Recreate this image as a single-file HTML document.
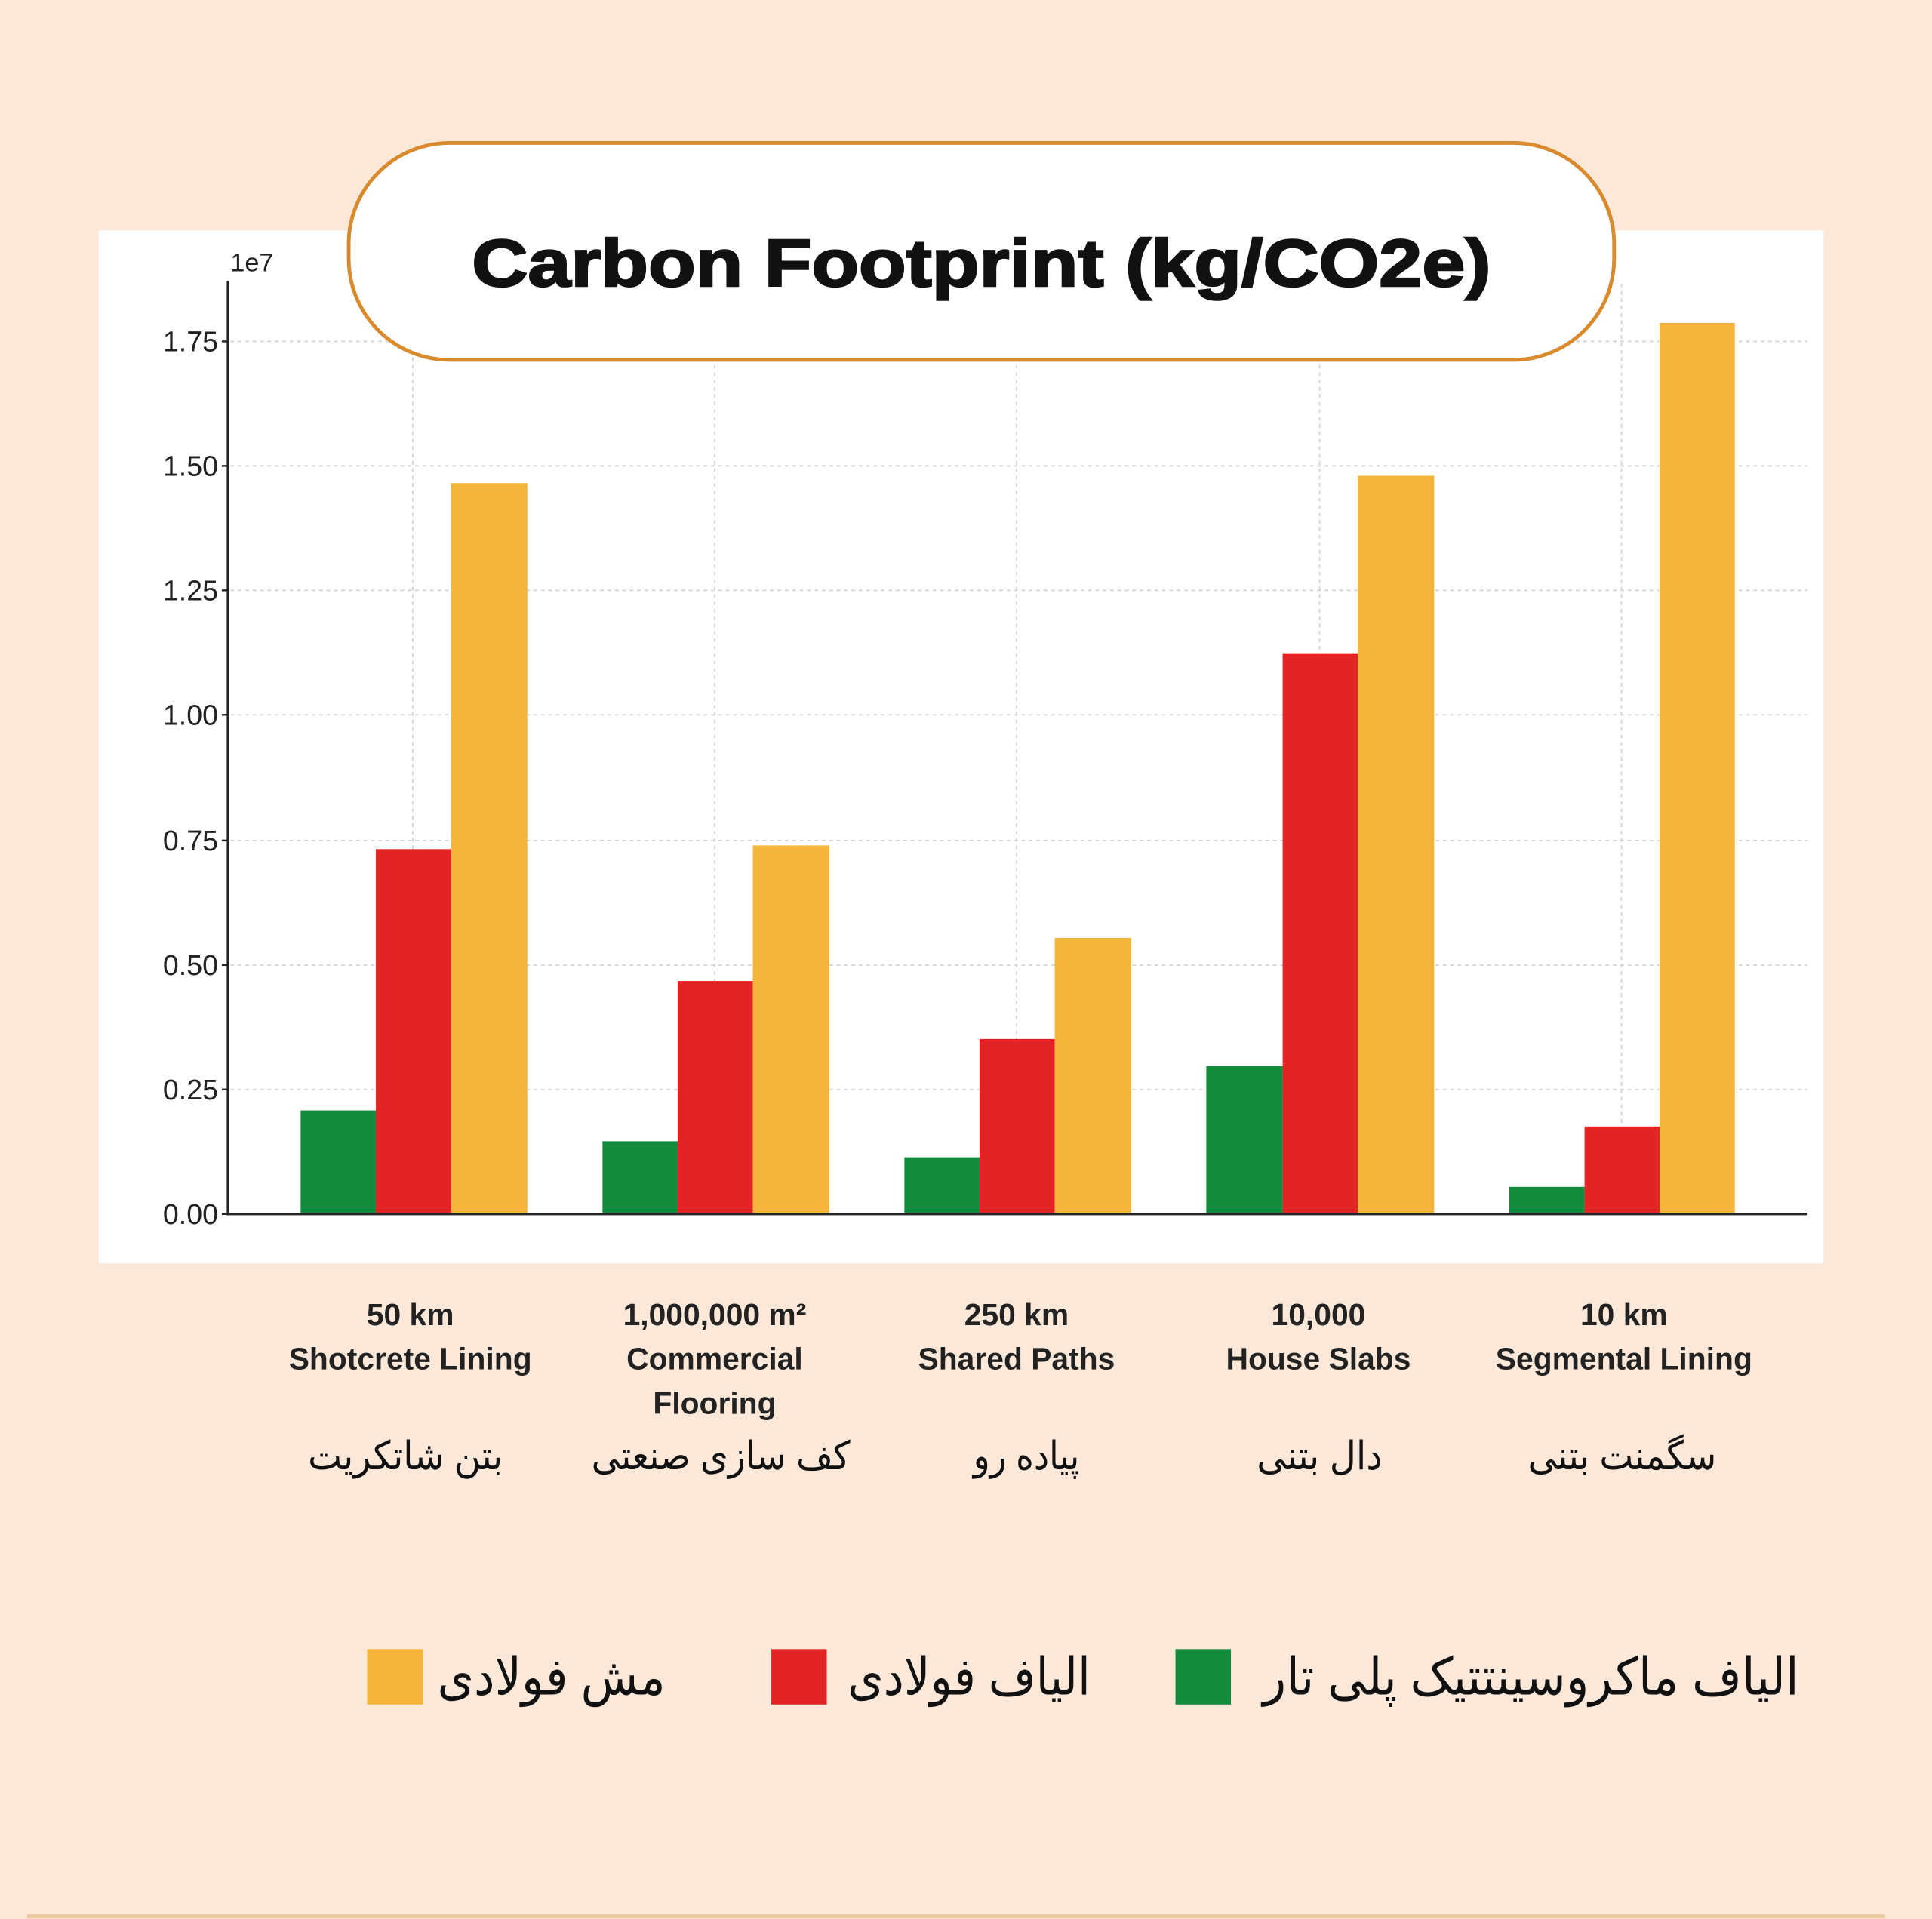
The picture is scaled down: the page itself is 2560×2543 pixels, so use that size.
<!DOCTYPE html>
<html><head><meta charset="utf-8"><style>
html,body{margin:0;padding:0;background:#fce8d9;}
svg{display:block}
.t{font-family:"Liberation Sans","DejaVu Sans",sans-serif;fill:#222}
.fa{font-family:"Liberation Sans","DejaVu Sans",sans-serif;fill:#111}
</style></head><body>
<svg width="2560" height="2543" viewBox="0 0 1568 1557" preserveAspectRatio="none" xmlns="http://www.w3.org/2000/svg">
<rect x="0" y="0" width="1568" height="1557" fill="#fce8d9"/>
<rect x="80" y="187" width="1400" height="838" fill="#ffffff"/>
<g stroke="#d6d6d6" stroke-width="1.2" stroke-dasharray="3,3">
<line x1="187" y1="277" x2="1467" y2="277"/><line x1="187" y1="378" x2="1467" y2="378"/>
<line x1="187" y1="479" x2="1467" y2="479"/><line x1="187" y1="580" x2="1467" y2="580"/>
<line x1="187" y1="682" x2="1467" y2="682"/><line x1="187" y1="783" x2="1467" y2="783"/>
<line x1="187" y1="884" x2="1467" y2="884"/>
<line x1="335" y1="230" x2="335" y2="985"/><line x1="580" y1="230" x2="580" y2="985"/>
<line x1="825" y1="230" x2="825" y2="985"/><line x1="1071" y1="230" x2="1071" y2="985"/>
<line x1="1316" y1="230" x2="1316" y2="985"/>
</g>
<g>
<rect x="244" y="901" width="61" height="84" fill="#138a3c"/><rect x="305" y="689" width="61" height="296" fill="#e32424"/><rect x="366" y="392" width="62" height="593" fill="#f5b43a"/>
<rect x="489" y="926" width="61" height="59" fill="#138a3c"/><rect x="550" y="796" width="61" height="189" fill="#e32424"/><rect x="611" y="686" width="62" height="299" fill="#f5b43a"/>
<rect x="734" y="939" width="61" height="46" fill="#138a3c"/><rect x="795" y="843" width="61" height="142" fill="#e32424"/><rect x="856" y="761" width="62" height="224" fill="#f5b43a"/>
<rect x="979" y="865" width="62" height="120" fill="#138a3c"/><rect x="1041" y="530" width="61" height="455" fill="#e32424"/><rect x="1102" y="386" width="62" height="599" fill="#f5b43a"/>
<rect x="1225" y="963" width="61" height="22" fill="#138a3c"/><rect x="1286" y="914" width="61" height="71" fill="#e32424"/><rect x="1347" y="262" width="61" height="723" fill="#f5b43a"/>
</g>
<line x1="185" y1="228" x2="185" y2="986" stroke="#222" stroke-width="2"/>
<line x1="184" y1="985" x2="1467" y2="985" stroke="#222" stroke-width="2"/>
<g stroke="#222" stroke-width="1.5">
<line x1="180" y1="277" x2="185" y2="277"/><line x1="180" y1="378" x2="185" y2="378"/><line x1="180" y1="479" x2="185" y2="479"/><line x1="180" y1="580" x2="185" y2="580"/><line x1="180" y1="682" x2="185" y2="682"/><line x1="180" y1="783" x2="185" y2="783"/><line x1="180" y1="884" x2="185" y2="884"/><line x1="180" y1="985" x2="185" y2="985"/>
</g>
<g class="t" font-size="23" text-anchor="end">
<text x="177" y="285">1.75</text><text x="177" y="386">1.50</text><text x="177" y="487">1.25</text><text x="177" y="588">1.00</text><text x="177" y="690">0.75</text><text x="177" y="791">0.50</text><text x="177" y="892">0.25</text><text x="177" y="993">0.00</text>
</g>
<text class="t" x="187" y="220" font-size="21">1e7</text>
<rect x="283" y="116" width="1027" height="176" rx="82" ry="82" fill="#fff" stroke="#d98a2c" stroke-width="3"/>
<text x="383" y="232" textLength="827" lengthAdjust="spacingAndGlyphs" font-family="'Liberation Sans',sans-serif" font-weight="bold" font-size="54" fill="#111" stroke="#111" stroke-width="1.5">Carbon Footprint (kg/CO2e)</text>
<g class="t" font-size="25" font-weight="bold" text-anchor="middle" fill="#333">
<text x="333" y="1075">50 km</text><text x="333" y="1111">Shotcrete Lining</text>
<text x="580" y="1075">1,000,000 m²</text><text x="580" y="1111">Commercial</text><text x="580" y="1147">Flooring</text>
<text x="825" y="1075">250 km</text><text x="825" y="1111">Shared Paths</text>
<text x="1070" y="1075">10,000</text><text x="1070" y="1111">House Slabs</text>
<text x="1318" y="1075">10 km</text><text x="1318" y="1111">Segmental Lining</text>
</g>
<g class="fa" font-size="32">
<text x="250" y="1192" textLength="158" lengthAdjust="spacingAndGlyphs">بتن شاتکریت</text>
<text x="480" y="1192" textLength="210" lengthAdjust="spacingAndGlyphs">کف سازی صنعتی</text>
<text x="790" y="1192" textLength="86" lengthAdjust="spacingAndGlyphs">پیاده رو</text>
<text x="1020" y="1192" textLength="102" lengthAdjust="spacingAndGlyphs">دال بتنی</text>
<text x="1240" y="1192" textLength="153" lengthAdjust="spacingAndGlyphs">سگمنت بتنی</text>
</g>
<rect x="298" y="1338" width="45" height="45" fill="#f5b43a"/>
<rect x="626" y="1338" width="45" height="45" fill="#e32424"/>
<rect x="954" y="1338" width="45" height="45" fill="#138a3c"/>
<g class="fa" font-size="42">
<text x="355" y="1375" textLength="185" lengthAdjust="spacingAndGlyphs">مش فولادی</text>
<text x="688" y="1375" textLength="197" lengthAdjust="spacingAndGlyphs">الیاف فولادی</text>
<text x="1025" y="1375" textLength="435" lengthAdjust="spacingAndGlyphs">الیاف ماکروسینتتیک پلی تار</text>
</g>
<line x1="22" y1="1555" x2="1530" y2="1555" stroke="#ecc79c" stroke-width="3"/>
</svg>
</body></html>
